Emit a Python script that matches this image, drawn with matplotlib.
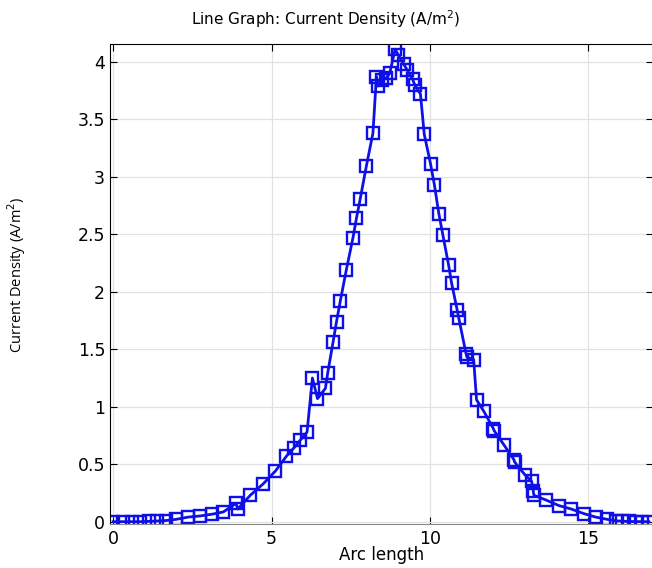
import numpy as np
import matplotlib.pyplot as plt

# Arc length / current density values
arc_length = [0.0, 0.3, 0.58, 0.86, 1.12, 1.39, 1.66, 1.98, 2.37, 2.75, 3.12, 3.48,
              3.88, 3.93, 4.33, 4.74, 5.12, 5.47, 5.70, 5.91, 6.12, 6.29, 6.45,
              6.70, 6.77, 6.94, 7.05, 7.17, 7.36, 7.57, 7.68, 7.80, 7.99, 8.20,
              8.31, 8.37, 8.50, 8.62, 8.73, 8.90, 9.00, 9.17, 9.28, 9.45, 9.52,
              9.70, 9.82, 10.02, 10.14, 10.28, 10.41, 10.59, 10.68, 10.86, 10.91,
              11.14, 11.17, 11.38, 11.47, 11.70, 12.00, 12.03, 12.33, 12.65, 12.67,
              12.99, 13.21, 13.26, 13.28, 13.65, 14.07, 14.46, 14.86, 15.23, 15.60,
              15.86, 16.07, 16.28, 16.49, 16.70, 16.91]
current_density = [0.0, 0.0, 0.0, 0.0, 0.003, 0.006, 0.01, 0.02, 0.04, 0.05, 0.065, 0.085,
                   0.16, 0.11, 0.23, 0.33, 0.44, 0.57, 0.64, 0.71, 0.78, 1.25, 1.07,
                   1.16, 1.29, 1.56, 1.74, 1.92, 2.19, 2.47, 2.64, 2.81, 3.09, 3.38,
                   3.87, 3.79, 3.84, 3.86, 3.90, 4.11, 4.06, 3.98, 3.93, 3.85, 3.80,
                   3.72, 3.37, 3.11, 2.93, 2.68, 2.49, 2.23, 2.08, 1.84, 1.77,
                   1.46, 1.43, 1.41, 1.06, 0.96, 0.81, 0.79, 0.67, 0.54, 0.52,
                   0.41, 0.35, 0.27, 0.23, 0.19, 0.14, 0.11, 0.07, 0.04, 0.02,
                   0.008, 0.004, 0.002, 0.001, 0.0, 0.0]

x_ticks = [0, 5, 10, 15]
y_ticks = [0, 0.5, 1, 1.5, 2, 2.5, 3, 3.5, 4]
y_labels = ["0", "0.5", "1", "1.5", "2", "2.5", "3", "3.5", "4"]

fig = plt.figure(figsize=(6.52, 5.68), dpi=100)
ax = fig.add_axes([0.1687, 0.0775, 0.8333, 0.845])

ax.plot(arc_length, current_density, color="#0f0fe8", linewidth=2.0,
        marker="s", markersize=8.5, markerfacecolor="none",
        markeredgewidth=1.7, markeredgecolor="#0f0fe8")

ax.set_xlim(-0.1, 17.05)
ax.set_ylim(-0.02, 4.155)
ax.set_xticks(x_ticks)
ax.set_yticks(y_ticks)
ax.set_yticklabels(y_labels)
ax.grid(True, color="#e2e2e2", linewidth=0.9)
ax.set_axisbelow(True)
ax.tick_params(direction="in", top=True, right=True, labelsize=12.5,
               length=5, color="black")
ax.tick_params(axis="x", pad=4)
ax.spines["bottom"].set_color("#888888")

fig.suptitle("Line Graph: Current Density (A/m$^2$)", x=0.5, y=0.985,
             fontsize=11)
ax.set_xlabel("Arc length", fontsize=12, labelpad=-1)
ax.set_ylabel("Current Density (A/m$^2$)", fontsize=10.5, family="Open Sans")
ax.yaxis.set_label_coords(-0.15, 0.52)

fig.savefig("out.png", dpi=100)
